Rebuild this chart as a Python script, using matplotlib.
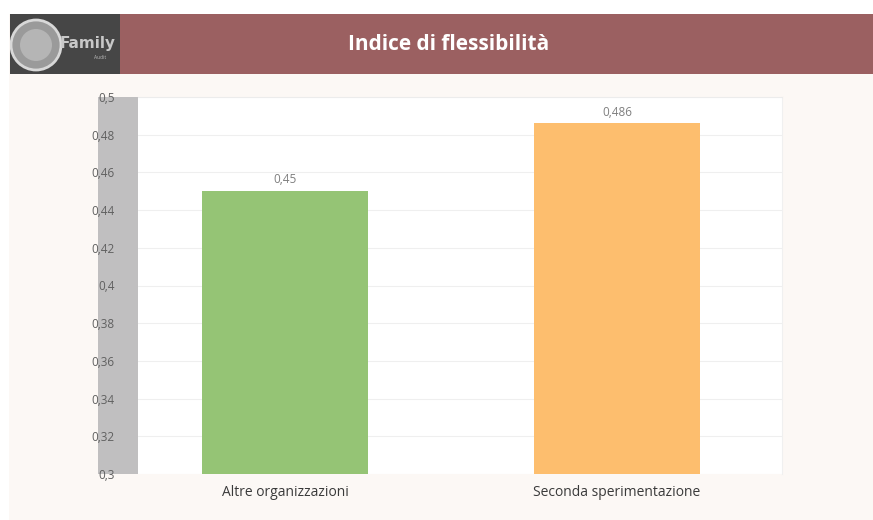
import matplotlib
matplotlib.use("Agg")
import matplotlib.pyplot as plt
from matplotlib.patches import Rectangle, Circle

categories = ["Altre organizzazioni", "Seconda sperimentazione"]
values = [0.45, 0.486]
value_labels = ["0,45", "0,486"]
bar_colors = ["#95c475", "#fdbe6e"]
y_ticks = [0.30, 0.32, 0.34, 0.36, 0.38, 0.40, 0.42, 0.44, 0.46, 0.48, 0.50]
y_tick_labels = ["0,3", "0,32", "0,34", "0,36", "0,38", "0,4", "0,42", "0,44", "0,46", "0,48", "0,5"]
title = "Indice di flessibilità"

W, H = 873, 520
plt.rcParams["font.family"] = ["Open Sans", "DejaVu Sans"]
fig = plt.figure(figsize=(W / 100, H / 100), dpi=100)
fig.patch.set_facecolor("#fcf8f5")


def fx(px):
    return px / W


def fy(py):
    return 1 - py / H


def fig_rect(x0, y0, w, h, color):
    fig.patches.append(Rectangle((fx(x0), fy(y0 + h)), w / W, h / H,
                                 transform=fig.transFigure, facecolor=color,
                                 edgecolor="none", zorder=0))


# white page margins
fig_rect(0, 0, W, 14, "white")
fig_rect(0, 0, 9, H, "white")

# header band with logo block
fig_rect(10, 14, 110, 60, "#464646")
fig_rect(120, 14, W - 120, 60, "#9b6061")
logo_ax = fig.add_axes([fx(10), fy(74), fx(110), 60 / H], zorder=1)
logo_ax.set_xlim(0, 110)
logo_ax.set_ylim(60, 0)
logo_ax.axis("off")
logo_ax.add_patch(Circle((26, 31), 25, facecolor="#9a9a9a", edgecolor="#d8d8d8", lw=2.0))
logo_ax.add_patch(Circle((26, 31), 16, facecolor="#b5b5b5", edgecolor="none"))
logo_ax.text(78, 30, "Family", color="#c8c8c8", fontsize=11, fontweight="bold",
             ha="center", va="center", family=["Liberation Sans Narrow", "DejaVu Sans"])
logo_ax.text(90, 44, "Audit", color="#bbbbbb", fontsize=3.5, ha="center", va="center")

fig.text(fx(449), fy(45), title, color="white", fontsize=15, fontweight="bold",
         ha="center", va="center", zorder=3)

# plot area
left, right, top, bottom = 138, 782, 97, 474

# grey side wall next to the value axis
fig_rect(98, top, 40, bottom - top, "#c0bfc0")

ax = fig.add_axes([fx(left), fy(bottom), fx(right - left), (bottom - top) / H], zorder=1)
ax.set_facecolor("white")

x = [0, 1]
ax.bar(x, values, width=0.5, bottom=0, color=bar_colors, zorder=3)
ax.set_ylim(0.3, 0.5)
ax.set_xlim(-0.443, 1.497)
ax.set_yticks(y_ticks)
ax.set_yticklabels(y_tick_labels)
ax.set_xticks(x)
ax.set_xticklabels(categories)
ax.yaxis.grid(True, color="#efefef", lw=0.8, zorder=0)
ax.tick_params(axis="y", length=0, pad=17, labelsize=8.5, labelcolor="#606060")
ax.tick_params(axis="x", length=0, pad=8, labelsize=10, labelcolor="#3a3a3a")
for s in ax.spines.values():
    s.set_visible(False)
ax.spines["top"].set_visible(True)
ax.spines["top"].set_color("#ececec")
ax.spines["right"].set_visible(True)
ax.spines["right"].set_color("#f0f0f0")

for xi, v, lab in zip(x, values, value_labels):
    ax.annotate(lab, (xi, v), xytext=(0, 3.5), textcoords="offset points",
                ha="center", va="bottom", fontsize=8.5, color="#7f7f7f")

fig.savefig("out.png", dpi=100, facecolor=fig.get_facecolor())
